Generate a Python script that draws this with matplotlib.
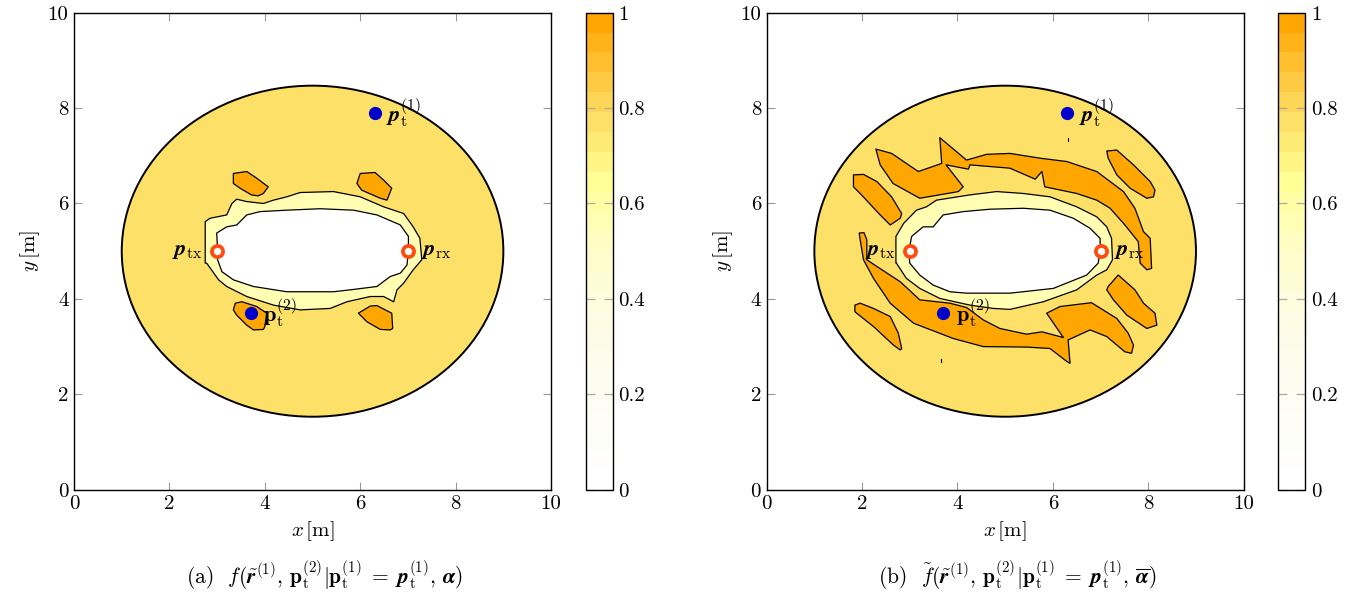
import io
import numpy as np
import matplotlib
matplotlib.use("Agg")
import matplotlib.pyplot as plt
from matplotlib.colors import LinearSegmentedColormap, BoundaryNorm
from matplotlib.patches import Ellipse, Polygon
from matplotlib.collections import PatchCollection
from matplotlib.ticker import FixedLocator, FixedFormatter

plt.rcParams.update({
    "font.family": "serif",
    "font.serif": ["cmr10"],
    "mathtext.fontset": "cm",
    "axes.formatter.use_mathtext": True,
})

# ---- data ----
TX = (3.0, 5.0)
RX = (7.0, 5.0)
PT1 = (6.3, 7.9)
PT2 = (3.7, 3.7)

OUTER_CENTER = (5.0, 5.0)
OUTER_W, OUTER_H = 8.0, 6.94

LEVEL_OUTER = 0.77
LEVEL_RING = 0.57
LEVEL_HOLE = 0.0
LEVEL_PEAK = 0.97

# panel (a)
A_HOLE = [(3.01, 5.03), (2.99, 5.38), (3.20, 5.51), (3.41, 5.55), (3.62, 5.76), (3.90, 5.83),
          (4.46, 5.86), (5.16, 5.89), (5.86, 5.86), (6.35, 5.76), (6.84, 5.55), (7.01, 5.31),
          (7.01, 5.03), (6.98, 4.71), (6.84, 4.54), (6.63, 4.47), (6.35, 4.26), (5.79, 4.19),
          (5.44, 4.15), (4.46, 4.15), (3.76, 4.26), (3.34, 4.40), (3.10, 4.57), (3.01, 4.82)]
A_RING = [(2.75, 4.75), (2.75, 5.62), (2.85, 5.69), (3.20, 5.76), (3.31, 6.00), (3.41, 6.09),
          (3.62, 6.04), (3.97, 6.00), (4.18, 6.07), (4.46, 6.14), (4.74, 6.23), (5.44, 6.25),
          (6.00, 6.14), (6.49, 5.93), (6.91, 5.79), (7.11, 5.51), (7.25, 5.27), (7.29, 4.82),
          (7.11, 4.61), (6.91, 4.33), (6.77, 4.19), (6.70, 3.94), (6.49, 4.05), (6.21, 4.05),
          (5.72, 3.94), (5.37, 3.80), (4.74, 3.77), (4.18, 3.87), (3.62, 4.05), (3.20, 4.26),
          (3.03, 4.40), (2.78, 4.75)]
A_PEAK_UL = [(3.34, 6.63), (3.62, 6.67), (3.83, 6.53), (4.07, 6.35), (3.97, 6.21), (3.86, 6.16),
             (3.72, 6.18), (3.48, 6.32), (3.34, 6.42)]
A_PEAK_UR = [(6.00, 6.63), (6.31, 6.65), (6.49, 6.49), (6.66, 6.32), (6.56, 6.07), (6.42, 6.11),
             (6.03, 6.28), (5.93, 6.42)]
A_PEAK_LL = [(3.38, 3.91), (3.52, 3.94), (3.83, 3.84), (4.04, 3.70), (4.00, 3.42), (3.97, 3.36),
             (3.76, 3.35), (3.62, 3.45), (3.41, 3.66), (3.34, 3.77)]
A_PEAK_LR = [(5.96, 3.70), (6.21, 3.85), (6.35, 3.86), (6.66, 3.70), (6.68, 3.38), (6.63, 3.35),
             (6.42, 3.36), (6.14, 3.52)]

# panel (b)
B_HOLE = [(2.98, 5.00), (3.04, 5.31), (3.28, 5.51), (3.49, 5.51), (3.70, 5.76), (4.12, 5.83),
          (4.68, 5.88), (5.38, 5.90), (5.94, 5.86), (6.43, 5.69), (6.78, 5.48), (6.99, 5.27),
          (6.99, 5.00), (6.95, 4.75), (6.71, 4.50), (6.01, 4.22), (5.10, 4.12), (4.19, 4.12),
          (3.84, 4.15), (3.49, 4.29), (3.21, 4.50), (3.00, 4.75)]
B_RING = [(2.71, 4.75), (2.71, 5.31), (2.87, 5.58), (3.14, 5.86), (3.35, 5.93), (3.56, 6.07),
          (4.26, 6.18), (4.82, 6.25), (5.38, 6.21), (5.94, 6.14), (6.50, 5.93), (6.92, 5.72),
          (7.13, 5.51), (7.23, 5.27), (7.25, 4.82), (7.13, 4.61), (6.92, 4.50), (6.50, 4.19),
          (5.80, 3.94), (5.10, 3.78), (4.75, 3.80), (4.26, 3.87), (3.63, 4.01), (3.21, 4.22),
          (2.93, 4.43), (2.72, 4.75)]
B_PEAK_TOP = [(2.29, 7.14), (2.62, 7.05), (3.18, 6.67), (3.67, 6.84), (3.63, 7.38), (4.19, 6.91),
              (4.61, 7.03), (5.10, 7.05), (5.73, 6.95), (6.29, 6.88), (6.92, 6.67), (7.48, 6.25),
              (7.72, 5.90), (7.90, 5.41), (8.04, 5.27), (8.07, 4.64), (7.97, 4.61), (7.83, 4.75),
              (7.79, 5.20), (7.51, 5.55), (7.20, 5.90), (6.92, 6.07), (6.50, 6.21), (5.83, 6.35),
              (5.77, 6.67), (5.63, 6.51), (5.10, 6.74), (4.26, 6.81), (4.23, 6.72), (3.76, 6.81),
              (4.12, 6.35), (4.02, 6.25), (3.21, 6.11), (2.65, 6.42), (2.38, 6.81)]
B_PEAK_L = [(1.82, 6.60), (2.03, 6.61), (2.31, 6.46), (2.62, 6.14), (2.83, 5.79), (2.80, 5.69),
            (2.59, 5.55), (2.38, 5.76), (1.96, 6.21), (1.82, 6.35)]
B_PEAK_R = [(7.13, 7.10), (7.34, 7.12), (7.69, 6.81), (8.04, 6.46), (8.14, 6.28), (8.11, 6.14),
            (7.97, 6.11), (7.62, 6.32), (7.34, 6.60), (7.16, 6.95)]
B_PEAK_BOT = [(1.94, 5.38), (2.04, 5.39), (2.10, 5.24), (2.10, 4.82), (2.31, 4.68), (2.80, 4.36),
              (3.21, 3.98), (3.84, 3.91), (4.19, 3.82), (4.54, 3.56), (4.89, 3.38), (5.45, 3.26),
              (5.77, 3.31), (6.22, 3.19), (5.87, 3.70), (6.15, 3.84), (6.81, 3.92), (7.34, 3.59),
              (7.58, 3.28), (7.69, 3.03), (7.65, 2.86), (7.51, 2.89), (7.13, 3.21), (6.78, 3.35),
              (6.32, 3.14), (6.36, 2.65), (6.29, 2.69), (5.94, 2.96), (5.45, 2.99), (4.54, 3.00),
              (3.91, 3.17), (3.08, 3.49), (2.59, 3.91), (2.24, 4.43), (2.03, 4.82), (1.96, 5.24)]
B_PEAK_LL = [(1.85, 3.87), (1.96, 3.91), (2.24, 3.80), (2.59, 3.63), (2.76, 3.28), (2.83, 2.96),
             (2.80, 2.93), (2.66, 3.03), (2.24, 3.42), (1.85, 3.73)]
B_PEAK_LR = [(7.16, 4.26), (7.37, 4.50), (7.72, 4.19), (7.90, 3.91), (8.14, 3.70), (8.18, 3.45),
             (7.97, 3.38), (7.55, 3.66), (7.27, 3.98), (7.13, 4.19)]
B_SPECKS_X = [6.32, 3.65]
B_SPECKS_Y0 = [7.30, 2.68]
B_SPECKS_Y1 = [7.37, 2.73]

CB_TICKS = [0, 0.2, 0.4, 0.6, 0.8, 1]
CB_LABELS = ["0", "0.2", "0.4", "0.6", "0.8", "1"]
AX_TICKS = [0, 2, 4, 6, 8, 10]

# colormap: white -> light yellow -> orange, 24 bands
cmap = LinearSegmentedColormap.from_list("wyo", [
    (0.0, (1.0, 1.0, 1.0)),
    (0.3, (0.99, 0.985, 0.92)),
    (0.5, (1.0, 0.99, 0.79)),
    (0.65, (1.0, 1.0, 0.59)),
    (0.72, (1.0, 0.94, 0.48)),
    (0.8, (0.99, 0.86, 0.38)),
    (0.9, (1.0, 0.76, 0.2)),
    (1.0, (1.0, 0.65, 0.0)),
])
norm = BoundaryNorm(np.linspace(0, 1, 25), cmap.N)


def mathtext_ok(s):
    f = plt.figure(figsize=(1, 1))
    f.text(0, 0, s)
    try:
        f.savefig(io.BytesIO(), format="png")
        ok = True
    except Exception:
        ok = False
    plt.close(f)
    return ok


B = r"\boldsymbol" if mathtext_ok(r"$\boldsymbol{p}\boldsymbol{\alpha}$") else r"\mathbf"

fig = plt.figure(figsize=(13.61, 5.93), dpi=100)


def panel(x0, hole, ring, peaks, caption):
    ax = fig.add_axes([x0, 0.1742, 0.3505, 0.8044])
    patches = [Ellipse(OUTER_CENTER, OUTER_W, OUTER_H), Polygon(ring), Polygon(hole)]
    levels = [LEVEL_OUTER, LEVEL_RING, LEVEL_HOLE]
    widths = [1.4, 0.9, 0.9]
    for p in peaks:
        patches.append(Polygon(p))
        levels.append(LEVEL_PEAK)
        widths.append(0.9)
    coll = PatchCollection(patches, cmap=cmap, norm=norm, edgecolor="black", linewidths=widths)
    coll.set_array(np.array(levels))
    ax.add_collection(coll)

    ax.plot(*TX, "o", ms=8, mew=2.7, mec="#ff4a12", mfc="white", zorder=5)
    ax.plot(*RX, "o", ms=8, mew=2.7, mec="#ff4a12", mfc="white", zorder=5)
    ax.plot(*PT1, "o", ms=8.5, color="#0000cc", zorder=5)
    ax.plot(*PT2, "o", ms=8.5, color="#0000cc", zorder=5)

    ax.text(2.70, 4.92, "$" + B + r"{p}_{\mathrm{tx}}$", ha="right", va="baseline", fontsize=16, zorder=6)
    ax.text(7.28, 4.92, "$" + B + r"{p}_{\mathrm{rx}}$", ha="left", va="baseline", fontsize=16, zorder=6)
    ax.text(6.55, 7.72, "$" + B + r"{p}_{\mathrm{t}}^{(1)}$", ha="left", va="baseline", fontsize=16, zorder=6)
    ax.text(3.97, 3.54, r"$\mathbf{p}_{\mathrm{t}}^{(2)}$", ha="left", va="baseline", fontsize=16, zorder=6)

    ax.set_xlim(0, 10)
    ax.set_ylim(0, 10)
    ax.xaxis.set_major_locator(FixedLocator(AX_TICKS))
    ax.yaxis.set_major_locator(FixedLocator(AX_TICKS))
    ax.xaxis.set_major_formatter(FixedFormatter([str(t) for t in AX_TICKS]))
    ax.yaxis.set_major_formatter(FixedFormatter([str(t) for t in AX_TICKS]))
    ax.tick_params(direction="in", length=5.5, width=0.8, color="#999999",
                   top=True, right=True, labelsize=15, pad=4)
    for s in ax.spines.values():
        s.set_linewidth(1.0)
    ax.set_xlabel(r"$x\,[\mathrm{m}]$", fontsize=15, labelpad=4)
    ax.set_ylabel(r"$y\,[\mathrm{m}]$", fontsize=15, labelpad=4)

    cax = fig.add_axes([x0 + 0.3759, 0.1742, 0.0198, 0.8044])
    cb = fig.colorbar(coll, cax=cax)
    cb.set_ticks(CB_TICKS)
    cb.set_ticklabels(CB_LABELS)
    cb.outline.set_linewidth(1.0)
    cax.tick_params(direction="in", length=6.5, width=0.9, color="#aaaaaa",
                    left=True, right=True, labelsize=15, pad=4)
    cax.minorticks_off()

    fig.text(x0 + 0.3505 / 2 + 0.009, 0.03, caption, ha="center", va="center", fontsize=15.5)
    return ax


cap_a = ("(a)  $f(\\tilde{" + B + "{r}}^{(1)},\\,\\mathbf{p}_{\\mathrm{t}}^{(2)}|\\mathbf{p}_{\\mathrm{t}}^{(1)}\\;=\\;"
         + B + "{p}_{\\mathrm{t}}^{(1)},\\," + B + "{\\alpha})$")
cap_b = ("(b)  $\\tilde{f}(\\tilde{" + B + "{r}}^{(1)},\\,\\mathbf{p}_{\\mathrm{t}}^{(2)}|\\mathbf{p}_{\\mathrm{t}}^{(1)}\\;=\\;"
         + B + "{p}_{\\mathrm{t}}^{(1)},\\,\\overline{" + B + "{\\alpha}})$")

panel(0.0544, A_HOLE, A_RING, [A_PEAK_UL, A_PEAK_UR, A_PEAK_LL, A_PEAK_LR], cap_a)
axb = panel(0.5633, B_HOLE, B_RING, [B_PEAK_TOP, B_PEAK_L, B_PEAK_R, B_PEAK_BOT, B_PEAK_LL, B_PEAK_LR], cap_b)
for x, y0, y1 in zip(B_SPECKS_X, B_SPECKS_Y0, B_SPECKS_Y1):
    axb.plot([x, x], [y0, y1], color="black", lw=0.8, zorder=4)

fig.savefig("out.png", dpi=100)
